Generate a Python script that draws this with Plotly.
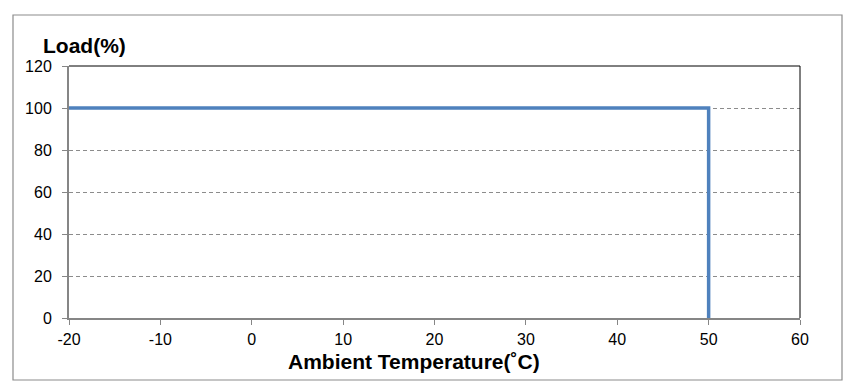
import plotly.graph_objects as go

temperature = [-20, 50, 50]
load = [100, 100, 0]
x_ticks = [-20, -10, 0, 10, 20, 30, 40, 50, 60]
x_tick_text = ["-20", "-10", "0", "10", "20", "30", "40", "50", "60"]
y_ticks = [0, 20, 40, 60, 80, 100, 120]

W, H = 855, 389
OFF = 8  # page body margin
L, R, T, B = 69 - OFF, 800 - OFF, 66 - OFF, 318 - OFF
pw, ph = R - L, B - T

def px(x):
    return (x - OFF - L) / pw

def py(y):
    return (B - (y - OFF)) / ph

fig = go.Figure()
fig.add_trace(go.Scatter(x=temperature, y=load, mode="lines",
                         line=dict(color="#4F81BD", width=3.5), hoverinfo="skip",
                         cliponaxis=False))

fam = "Liberation Sans, Arial, sans-serif"
font = dict(family=fam, size=16, color="#000")
fig.update_layout(
    width=W, height=H,
    margin=dict(l=L, r=W - R, t=T, b=H - B, pad=0),
    paper_bgcolor="white", plot_bgcolor="white",
    showlegend=False, font=font,
    xaxis=dict(range=[-20, 60], tickvals=x_ticks, ticktext=x_tick_text,
               showgrid=False, zeroline=False,
               showline=True, linecolor="#868686", linewidth=2,
               ticks="outside", ticklen=5, tickcolor="#868686", tickwidth=1,
               tickfont=font, ticklabelstandoff=1, fixedrange=True),
    yaxis=dict(range=[0, 120], tickvals=y_ticks, showgrid=True, gridcolor="#8c8c8c",
               griddash="4px,3px", gridwidth=1, zeroline=False,
               showline=True, linecolor="#868686", linewidth=2,
               ticks="outside", ticklen=5, tickcolor="#868686", tickwidth=1,
               tickfont=font, ticklabelstandoff=7, fixedrange=True),
    shapes=[
        dict(type="rect", xref="paper", yref="paper", x0=px(13), x1=px(842),
             y0=py(380), y1=py(15), line=dict(color="#8c8c8c", width=1.2), layer="below"),
        dict(type="line", xref="paper", yref="paper", x0=0, x1=1, y0=1, y1=1,
             line=dict(color="#000", width=1)),
        dict(type="line", xref="paper", yref="paper", x0=1, x1=1, y0=0, y1=1,
             line=dict(color="#000", width=1)),
    ],
    annotations=[
        dict(text="<b>Load(%)</b>", xref="paper", yref="paper", x=px(41), y=py(45),
             xanchor="left", yanchor="middle", showarrow=False,
             font=dict(family=fam, size=21, color="#000")),
        dict(text="<b>Ambient Temperature(˚C)</b>", xref="paper", yref="paper",
             x=px(414), y=py(361), xanchor="center", yanchor="middle", showarrow=False,
             font=dict(family=fam, size=21, color="#000")),
    ],
)
fig.write_html("out.html")
